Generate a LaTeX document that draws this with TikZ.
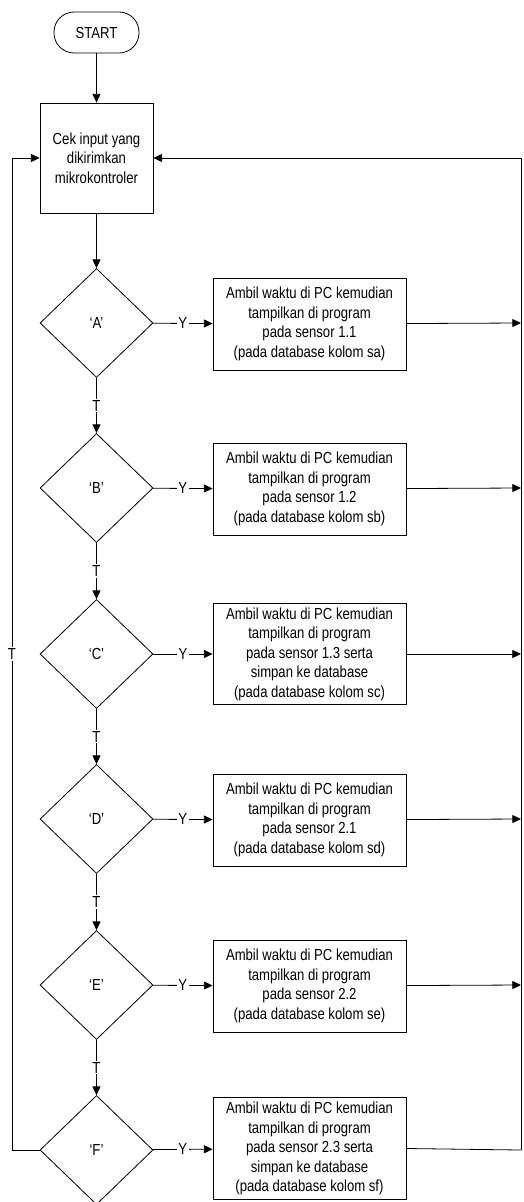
\documentclass[tikz,border=0pt]{standalone}
\usepackage{fontspec}
\setmainfont{Liberation Sans}[FakeStretch=0.82]
\usetikzlibrary{shapes.geometric,arrows.meta,positioning}

\begin{document}
\begin{tikzpicture}[
  x=0.75pt,y=-0.75pt,
  font=\fontsize{12}{14.6}\selectfont,
  terminal/.style={draw,rounded corners=15pt,line width=0.6pt,minimum width=63.75pt,minimum height=30.75pt},
  process/.style={draw,line width=0.6pt,minimum width=84.75pt,minimum height=82.5pt,align=center},
  decision/.style={draw,diamond,line width=0.6pt,minimum width=84.75pt,minimum height=81.75pt,inner sep=0pt},
  action/.style={draw,line width=0.6pt,minimum width=144.75pt,minimum height=69pt,align=center},
  actionlong/.style={action,minimum height=75.75pt},
  flow/.style={-{Triangle[length=6.5pt,width=6pt]},line width=0.6pt},
  link/.style={line width=0.6pt},
  yt/.style={fill=white,inner sep=1pt}
]
  \useasboundingbox (0,0) rectangle (524,1202);

  \node[terminal] (start) at (96.5,32.5) {START};
  \node[process] (cek) at (96.5,158) {Cek input yang\\dikirimkan\\mikrokontroler};

  \node[decision] (dA) at (96.5,323) {‘A’};
  \node[decision] (dB) at (96.5,488) {‘B’};
  \node[decision] (dC) at (96.5,654) {‘C’};
  \node[decision] (dD) at (96.5,819) {‘D’};
  \node[decision] (dE) at (96.5,985) {‘E’};
  \node[decision] (dF) at (96.5,1150) {‘F’};

  \node[action] (bA) at (309.5,324) {Ambil waktu di PC kemudian\\tampilkan di program\\pada sensor 1.1\\(pada database kolom sa)};
  \node[action] (bB) at (309.5,489) {Ambil waktu di PC kemudian\\tampilkan di program\\pada sensor 1.2\\(pada database kolom sb)};
  \node[actionlong] (bC) at (309.5,654) {Ambil waktu di PC kemudian\\tampilkan di program\\pada sensor 1.3 serta\\simpan ke database\\(pada database kolom sc)};
  \node[action] (bD) at (309.5,820) {Ambil waktu di PC kemudian\\tampilkan di program\\pada sensor 2.1\\(pada database kolom sd)};
  \node[action] (bE) at (309.5,986) {Ambil waktu di PC kemudian\\tampilkan di program\\pada sensor 2.2\\(pada database kolom se)};
  \node[actionlong] (bF) at (309.5,1148.5) {Ambil waktu di PC kemudian\\tampilkan di program\\pada sensor 2.3 serta\\simpan ke database\\(pada database kolom sf)};

  % return line on the right
  \coordinate (rA) at (521,323);
  \coordinate (rB) at (521,488);
  \coordinate (rC) at (521,654);
  \coordinate (rD) at (521,819);
  \coordinate (rE) at (521,985);
  \coordinate (rF) at (521,1150);
  \coordinate (rtop) at (521,158);
  \coordinate (lF) at (12,1150);

  \draw[flow] (start) -- (cek);
  \draw[flow] (cek) -- (dA);

  \draw[flow] (dA) -- node[yt]{T} (dB);
  \draw[flow] (dB) -- node[yt]{T} (dC);
  \draw[flow] (dC) -- node[yt]{T} (dD);
  \draw[flow] (dD) -- node[yt]{T} (dE);
  \draw[flow] (dE) -- node[yt]{T} (dF);

  \draw[flow] (dA) -- node[yt]{Y} (bA);
  \draw[flow] (dB) -- node[yt]{Y} (bB);
  \draw[flow] (dC) -- node[yt]{Y} (bC);
  \draw[flow] (dD) -- node[yt]{Y} (bD);
  \draw[flow] (dE) -- node[yt]{Y} (bE);
  \draw[flow] (dF) -- node[yt]{Y} (bF);

  \draw[flow] (bA) -- (rA);
  \draw[flow] (bB) -- (rB);
  \draw[flow] (bC) -- (rC);
  \draw[flow] (bD) -- (rD);
  \draw[flow] (bE) -- (rE);
  \draw[link] (bF.east) -- (rF);
  \draw[flow] (rF) -- (rtop) -- (cek.east);

  \draw[flow] (dF.west) -- (lF) |- node[pos=0.25,yt]{T} (cek.west);
\end{tikzpicture}
\end{document}
